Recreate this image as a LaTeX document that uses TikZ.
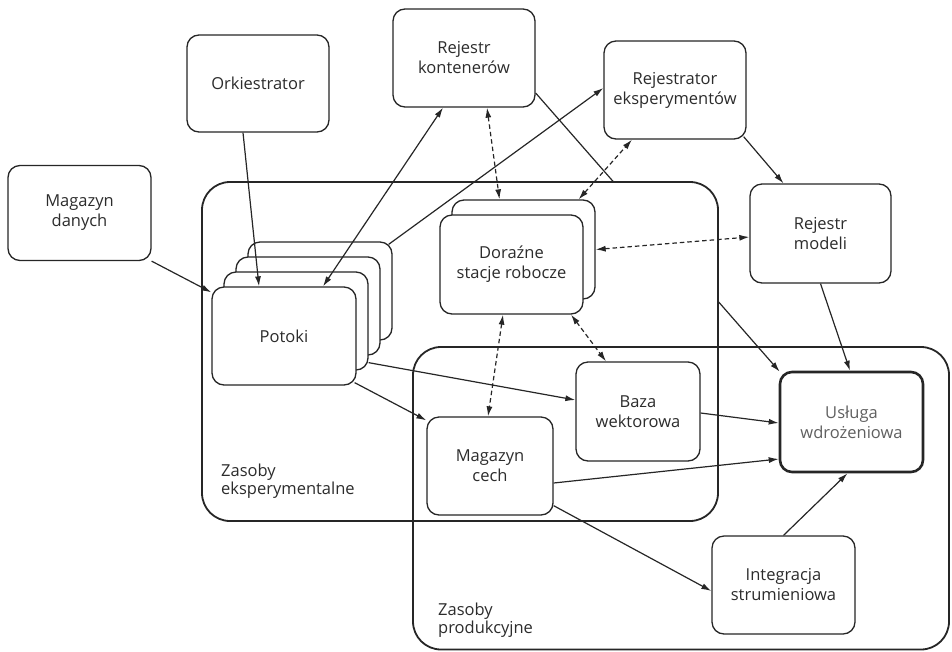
\documentclass[tikz,border=0pt]{standalone}
\usepackage{fontspec}
\setmainfont{Open Sans}
\usetikzlibrary{arrows.meta,calc}
\definecolor{ink}{HTML}{262626}
\definecolor{txt}{HTML}{2C2C2C}
\definecolor{dim}{HTML}{606060}

\begin{document}
\begin{tikzpicture}[x=1pt,y=-1pt,
  box/.style={draw=ink, line width=1.3pt, rounded corners=12pt, fill=white,
    align=center, text=txt, inner sep=0pt,
    font=\fontsize{16.5}{20}\selectfont},
  zone/.style={draw=ink, line width=1.8pt, rounded corners=28pt},
  zonelabel/.style={anchor=north west, align=left, text=txt, inner sep=0pt,
    font=\fontsize{16.5}{18}\selectfont},
  tip/.tip={Latex[length=10pt,width=6pt]},
  link/.style={draw=ink, line width=1.2pt, -tip},
  both/.style={draw=ink, line width=1.2pt, tip-tip},
  dlink/.style={both, dash pattern=on 4.5pt off 3pt},
]
\useasboundingbox (0,0) rectangle (952,651);

% external nodes
\node[box, minimum width=143pt, minimum height=95pt] (magdan) at (79.5,213) {Magazyn\\danych};
\node[box, minimum width=142pt, minimum height=97pt] (ork) at (258,83.5) {Orkiestrator};
\node[box, minimum width=142pt, minimum height=98pt] (rk) at (464,58) {Rejestr\\kontenerów};
\node[box, minimum width=142pt, minimum height=98pt] (re) at (675,90) {Rejestrator\\eksperymentów};
\node[box, minimum width=141pt, minimum height=99pt] (rm) at (820.5,233.5) {Rejestr\\modeli};
\node[box, line width=2.6pt, text=dim, minimum width=143pt, minimum height=100pt] (usl) at (851.5,422) {Usługa\\wdrożeniowa};

% container registry feeds deployment (runs behind the experimental zone)
\draw[link] ($(rk.east)+(0,35)$) -- ($(usl.north west)+(1,1)$);

% zones
\draw[zone, fill=white] (202,182) rectangle (718,521);
\draw[zone] (413,347) rectangle (949,649.5);
\node[zonelabel] (zexp) at (221,464) {Zasoby\\eksperymentalne};
\node[zonelabel] (zprod) at (438,603) {Zasoby\\produkcyjne};

% pipelines (stacked)
\node[box, minimum width=144pt, minimum height=98pt] (p4) at (320,291) {};
\node[box, minimum width=144pt, minimum height=98pt] (p3) at (308,306) {};
\node[box, minimum width=144pt, minimum height=98pt] (p2) at (296,321) {};
\node[box, minimum width=144pt, minimum height=98pt] (potoki) at (284,336) {Potoki};

% ad-hoc workstations (stacked)
\node[box, minimum width=143pt, minimum height=99pt] (d2) at (523.5,249.5) {};
\node[box, minimum width=143pt, minimum height=99pt] (dor) at (511.5,264.5) {Doraźne\\stacje robocze};

\node[box, minimum width=124pt, minimum height=99pt] (baza) at (638,411.5) {Baza\\wektorowa};
\node[box, minimum width=126pt, minimum height=98pt] (mc) at (490,466) {Magazyn\\cech};
\node[box, minimum width=143pt, minimum height=98pt] (integ) at (783.5,585) {Integracja\\strumieniowa};

% connectors
\draw[link] (magdan.south east) -- ($(potoki.north west)+(0,6)$);
\draw[link] ($(ork.south)+(-15,0)$) -- ($(potoki.north)+(-25,0)$);
\draw[both] ($(potoki.north)+(39,0)$) -- ($(rk.south)+(-21,0)$);
\draw[link] ($(p4.north east)+(-4,3)$) -- ($(re.west)+(0,-2)$);
\draw[dlink] ($(rk.south)+(23,0)$) -- ($(d2.north)+(-24,0)$);
\draw[dlink] ($(d2.north east)+(-17,0)$) -- ($(re.south)+(-43,0)$);
\draw[dlink] (d2.east) -- ($(rm.west)+(0,3.5)$);
\draw[link] ($(re.south east)+(-3,-3)$) -- ($(rm.north)+(-37,0)$);
\draw[link] (rm.south) -- ($(usl.north)+(-1.5,0)$);
\draw[dlink] ($(dor.south)+(-8.5,0)$) -- ($(mc.north)+(-2,0)$);
\draw[dlink] ($(dor.south)+(59.5,0)$) -- ($(baza.north)+(-32,0)$);
\draw[link] ($(p2.south east)+(0,-8)$) -- ($(baza.west)+(0,-11.5)$);
\draw[link] ($(potoki.south east)+(-2,-3)$) -- ($(mc.north west)+(0,4)$);
\draw[link] ($(baza.east)+(0,1.5)$) -- ($(usl.west)+(0,1)$);
\draw[link] ($(mc.east)+(0,17)$) -- ($(usl.west)+(0,37)$);
\draw[link] ($(mc.south east)+(0,-10)$) -- ($(integ.west)+(0,6)$);
\draw[link] (integ.north) -- ($(usl.south)+(-4,0)$);
\end{tikzpicture}
\end{document}
